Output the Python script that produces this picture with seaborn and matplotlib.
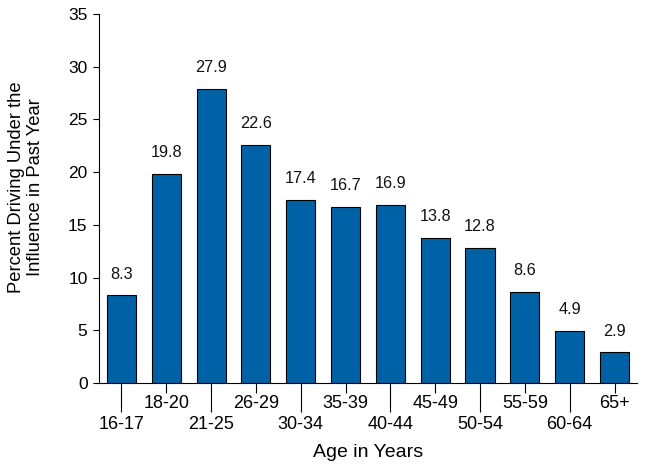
import pandas as pd
import seaborn as sns
import matplotlib.pyplot as plt
import numpy as np

# data
ages = ['16-17', '18-20', '21-25', '26-29', '30-34', '35-39',
        '40-44', '45-49', '50-54', '55-59', '60-64', '65+']
percent = [8.3, 19.8, 27.9, 22.6, 17.4, 16.7, 16.9, 13.8, 12.8, 8.6, 4.9, 2.9]

df = pd.DataFrame({'age': ages, 'percent': percent})

sns.set_style('white')
plt.rcParams['font.family'] = ['Liberation Sans', 'DejaVu Sans']
plt.rcParams['text.color'] = 'black'
plt.rcParams['axes.labelcolor'] = 'black'
plt.rcParams['xtick.color'] = 'black'
plt.rcParams['ytick.color'] = 'black'

fig = plt.figure(figsize=(6.46, 4.75), dpi=100)
ax = fig.add_axes([0.1533, 0.1937, 0.8327, 0.7768])

sns.barplot(data=df, x='age', y='percent', color='#0062a6', saturation=1,
            edgecolor='black', linewidth=0.8, width=0.65, ax=ax)

# value labels above bars
for i, v in enumerate(percent):
    ax.annotate(f'{v:.1f}', (i, v), xytext=(0, 10), textcoords='offset points',
                ha='center', va='bottom', fontsize=11.7, color='#111111')

ax.set_ylim(0, 35)
ax.set_xlim(-0.5, len(ages) - 0.5)
ax.set_yticks(np.arange(0, 36, 5))
ax.tick_params(axis='y', length=4.3, width=0.8, labelsize=12.5, pad=4, left=True)

# staggered x labels: long ticks for even positions, short for odd
pos = np.arange(len(ages))
ax.set_xticks(pos[::2], labels=ages[::2])
ax.set_xticks(pos[1::2], labels=ages[1::2], minor=True)
ax.tick_params(axis='x', which='major', length=21, width=0.8,
               labelsize=13, pad=3, bottom=True)
ax.tick_params(axis='x', which='minor', length=7.2, width=0.8,
               labelsize=13, pad=1.5, bottom=True)

for s in ['top', 'right']:
    ax.spines[s].set_visible(False)
for s in ['left', 'bottom']:
    ax.spines[s].set_color('black')
    ax.spines[s].set_linewidth(0.8)

ax.set_xlabel('Age in Years', fontsize=14, labelpad=8)
ax.set_ylabel('Percent Driving Under the\nInfluence in Past Year', fontsize=13.2)
ax.yaxis.set_label_coords(-0.102, 0.531)

fig.savefig('out.png', dpi=100)
